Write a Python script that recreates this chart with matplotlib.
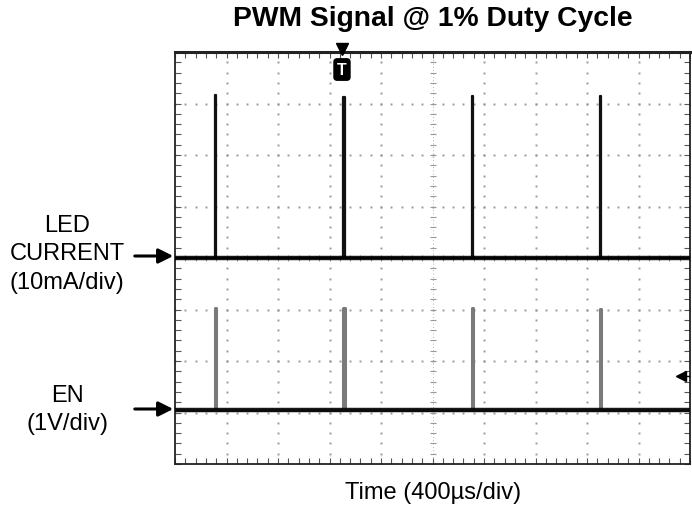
import numpy as np
import matplotlib.pyplot as plt
from matplotlib.patches import FancyArrowPatch

plt.rcParams['font.family'] = ['Liberation Sans', 'DejaVu Sans']

# Scope settings (time in microseconds, vertical in divisions)
US_PER_DIV = 400
N_XDIV = 10
N_YDIV = 8

# Pulse start times (us)
pulse_times = [-1690, -695, 305, 1300]
pulse_width = 12

# LED current trace (divisions)
led_base = 0.0
led_peaks = [3.17, 3.12, 3.14, 3.14]

# EN trace (divisions)
en_base = -2.96
en_peaks = [-0.97, -0.97, -0.97, -0.99]

trigger_time = -703
trigger_level = -2.29


def build_trace(base, peaks):
    t = [-N_XDIV / 2 * US_PER_DIV]
    v = [base]
    for t0, p in zip(pulse_times, peaks):
        t += [t0, t0, t0 + pulse_width, t0 + pulse_width]
        v += [base, p, p, base]
    t.append(N_XDIV / 2 * US_PER_DIV)
    v.append(base)
    return np.array(t), np.array(v)


fig = plt.figure(figsize=(6.92, 5.06), dpi=100)
ax = fig.add_axes([175 / 692, 1 - 465 / 506, 515 / 692, 412 / 506])

xmin, xmax = -N_XDIV / 2 * US_PER_DIV, N_XDIV / 2 * US_PER_DIV
ymin, ymax = -N_YDIV / 2, N_YDIV / 2
ax.set_xlim(xmin, xmax)
ax.set_ylim(ymin, ymax)

# dotted graticule
grid_col = '#999999'
xminor = np.arange(xmin, xmax + 1, US_PER_DIV / 5)
yminor = np.arange(ymin, ymax + 0.01, 0.2)
for i in range(1, N_XDIV):
    gx = xmin + i * US_PER_DIV
    if gx == 0:
        continue
    ax.plot(np.full_like(yminor, gx), yminor, ls='none', marker='s', ms=1.4,
            mew=0, color=grid_col, zorder=1)
for j in range(1, N_YDIV):
    gy = ymin + j
    if gy == 0:
        continue
    ax.plot(xminor, np.full_like(xminor, gy), ls='none', marker='s', ms=1.4,
            mew=0, color=grid_col, zorder=1)
# centre lines with small cross ticks
ax.plot(np.zeros_like(yminor), yminor, ls='none', marker='_', ms=5,
        mew=0.8, color=grid_col, zorder=1)
ax.plot(xminor, np.zeros_like(xminor), ls='none', marker='|', ms=5,
        mew=0.8, color=grid_col, zorder=1)
ax.axvline(0, color=grid_col, lw=0.6, ls=(0, (1, 3)), zorder=1)
ax.axhline(0, color=grid_col, lw=0.6, ls=(0, (1, 3)), zorder=1)

# border ticks
ax.set_xticks(np.arange(xmin, xmax + 1, US_PER_DIV))
ax.set_yticks(np.arange(ymin, ymax + 0.01, 1))
ax.set_xticks(xminor, minor=True)
ax.set_yticks(yminor, minor=True)
ax.tick_params(which='both', direction='in', top=True, right=True,
               length=4, width=0.8, color='#555555',
               labelbottom=False, labelleft=False)
for s in ax.spines.values():
    s.set_linewidth(1.3)
    s.set_color('#222222')
ax.spines['top'].set_linewidth(2.2)

# traces
t_led, v_led = build_trace(led_base, led_peaks)
t_en, v_en = build_trace(en_base, en_peaks)
ax.plot(t_en, v_en, color='#7a7a7a', lw=2.2, zorder=3)
ax.axhline(en_base, color='black', lw=3.2, alpha=0.9, zorder=3)
ax.plot(t_led, v_led, color='#111111', lw=1.6, zorder=4)
ax.axhline(led_base, color='black', lw=3.2, alpha=0.9, zorder=4)

# trigger markers
ax.plot([trigger_time], [ymax + 0.05], marker='v', ms=8, color='black',
        clip_on=False, zorder=6)
ax.text(trigger_time, ymax - 0.34, 'T', color='white', fontsize=11.5,
        fontweight='bold', ha='center', va='center', zorder=6,
        bbox=dict(boxstyle='round,pad=0.2', fc='black', ec='black'))
ax.plot([xmax - 70], [trigger_level], marker='<', ms=7, color='black',
        zorder=6)
ax.plot([xmax - 70, xmax], [trigger_level, trigger_level], color='black',
        lw=1, zorder=6)

# titles
fig.text(433 / 692, 1 - 19 / 506, 'PWM Signal @ 1% Duty Cycle', fontsize=20.3,
         fontweight='bold', ha='center', va='center')
fig.text(433 / 692, 1 - 493 / 506, 'Time (400µs/div)', fontsize=17,
         ha='center', va='center')

# channel labels with arrows
lx = 67 / 692
for txt, py in [('LED', 226), ('CURRENT', 254), ('(10mA/div)', 283),
                ('EN', 396), ('(1V/div)', 424)]:
    fig.text(lx, 1 - py / 506, txt, fontsize=17, ha='center', va='center')
for py in [257, 410]:
    fig.add_artist(FancyArrowPatch(
        (132 / 692, 1 - py / 506), (176 / 692, 1 - py / 506),
        transform=fig.transFigure, arrowstyle='-|>', mutation_scale=22,
        lw=2.2, color='black'))

fig.savefig('out.png', dpi=100)
